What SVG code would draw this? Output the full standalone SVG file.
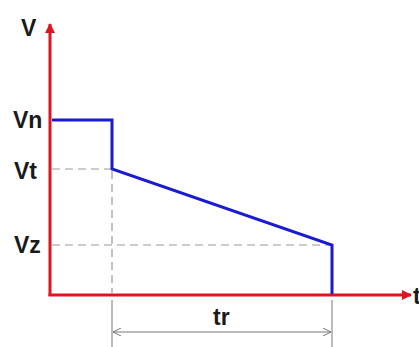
<svg xmlns="http://www.w3.org/2000/svg" width="419" height="347" viewBox="0 0 419 347">
<style>
.lbl{font-family:"Liberation Sans",Arial,sans-serif;font-weight:bold;font-size:23px;fill:#1a1a1a}
.axis{stroke:#e0141e;stroke-width:3;fill:none}
.sig{stroke:#1a1ad0;stroke-width:3;fill:none;stroke-linejoin:miter}
.dash{stroke:#999;stroke-width:1.2;stroke-dasharray:8,5;fill:none}
.thin{stroke:#777;stroke-width:1;fill:none}
</style>
<defs>
<marker id="ah" markerWidth="10" markerHeight="10" refX="9" refY="5" orient="auto" markerUnits="userSpaceOnUse">
<path d="M0,0 L10,5 L0,10 Z" fill="#e0141e"/>
</marker>
<marker id="oa" markerWidth="8" markerHeight="8" refX="8" refY="4" orient="auto-start-reverse" markerUnits="userSpaceOnUse">
<path d="M0,0 L8,4 L0,8" fill="none" stroke="#777" stroke-width="1"/>
</marker>
</defs>
<g id="connectors">
<line class="dash" x1="52" y1="169" x2="112" y2="169"/>
<line class="dash" x1="52" y1="245" x2="332" y2="245"/>
<line class="dash" x1="112" y1="171" x2="112" y2="293"/>
<line class="thin" x1="112" y1="300" x2="112" y2="347"/>
<line class="thin" x1="332" y1="300" x2="332" y2="347"/>
<line class="thin" x1="113" y1="332" x2="331" y2="332" marker-start="url(#oa)" marker-end="url(#oa)"/>
</g>
<g id="axes">
<line class="axis" x1="50" y1="296" x2="50" y2="24" marker-end="url(#ah)"/>
<line class="axis" x1="48.5" y1="295" x2="411" y2="295" marker-end="url(#ah)"/>
</g>
<g id="signal">
<polyline class="sig" points="52,120 112,120 112,169 332,245 332,294"/>
</g>
<g id="labels">
<text class="lbl" x="21" y="36">V</text>
<text class="lbl" x="13" y="128">Vn</text>
<text class="lbl" x="14" y="179">Vt</text>
<text class="lbl" x="14" y="253">Vz</text>
<text class="lbl" x="213" y="325">tr</text>
<text class="lbl" x="413" y="304">t</text>
</g>
</svg>
